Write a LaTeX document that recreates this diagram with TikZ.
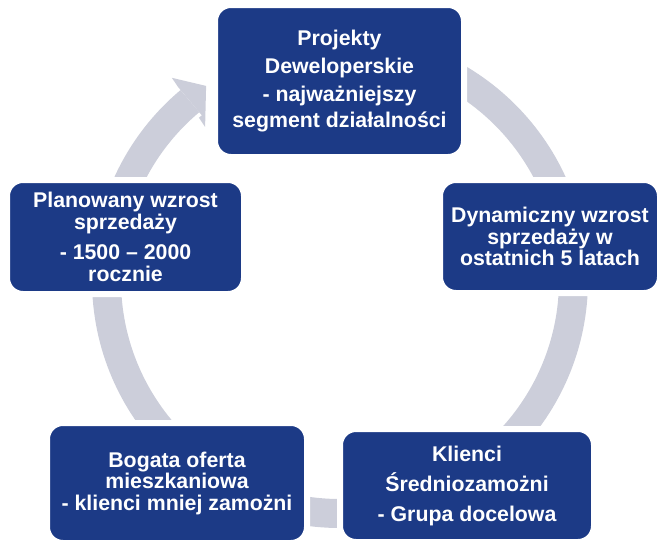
\documentclass[tikz,border=0pt]{standalone}
\usepackage{fontspec}
\setmainfont{Liberation Sans}
\definecolor{boxblue}{RGB}{28,58,134}
\definecolor{ringgray}{RGB}{204,206,218}
\begin{document}
\begin{tikzpicture}[x=1pt, y=-1pt,
    stage/.style={rectangle, rounded corners=16pt, fill=boxblue, draw=white, line width=6pt, inner sep=0pt, text=white, align=center, font=\bfseries\fontsize{21.3}{21.5}\selectfont}]
        \useasboundingbox (0,0) rectangle (658,541);
        \coordinate (ctr) at (340,280);
        %Ring
        \draw[ringgray, line width=29pt] (ctr) ++(-90:233.5) arc [radius=233.5, start angle=-90, end angle=230];
        \fill[ringgray, shift={(ctr)}] (230.25:263) -- (235.4:235.8) -- (228.6:204) -- (229:215) -- (230:215) -- (230:252) -- cycle;
        %Stages
        \node[stage, minimum width=249pt, minimum height=152pt] (proj) at (339.5,81) {Projekty\\[6.5pt]Deweloperskie\\[6.5pt]- najważniejszy\\[4.5pt]segment działalności};
        \node[stage, minimum width=220pt, minimum height=113pt] (dyn) at (550,236.5) {Dynamiczny wzrost\\sprzedaży w\\ostatnich 5 latach};
        \node[stage, minimum width=254pt, minimum height=113pt] (klienci) at (467,485.5) {Klienci\\[8.5pt]Średniozamożni\\[8.5pt]- Grupa docelowa};
        \node[stage, minimum width=260pt, minimum height=120pt] (oferta) at (177,483) {Bogata oferta\\mieszkaniowa\\- klienci mniej zamożni};
        \node[stage, minimum width=237pt, minimum height=114pt] (plan) at (125.5,237) {Planowany wzrost\\sprzedaży\\[9pt]- 1500 – 2000\\rocznie};
\end{tikzpicture}
\end{document}
